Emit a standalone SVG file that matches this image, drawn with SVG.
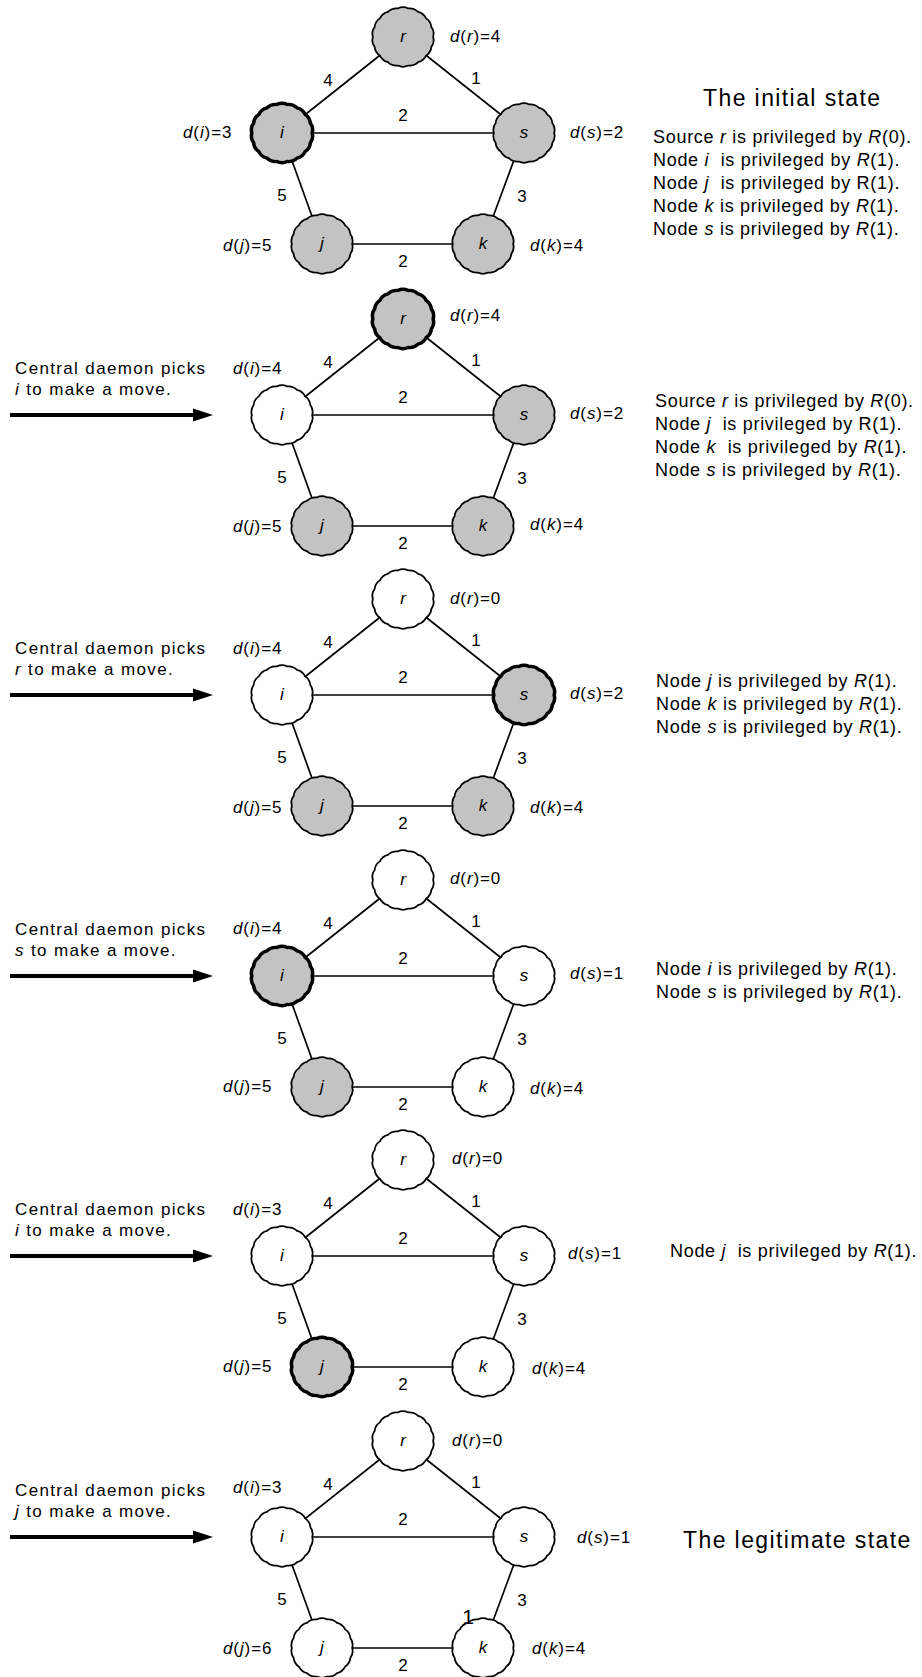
<svg xmlns="http://www.w3.org/2000/svg" xmlns:xlink="http://www.w3.org/1999/xlink" width="922" height="1677" viewBox="0 0 922 1677">
<style>
text { font-family: "Liberation Sans", Arial, sans-serif; fill: #000; }
.lab { font-size: 17px; letter-spacing: 0.9px; }
.nl { font-size: 17px; font-style: italic; text-anchor: middle; }
.el { font-size: 17px; text-anchor: middle; }
.desc { font-size: 18px; letter-spacing: 0.7px; white-space: pre; }
.title { font-size: 23px; letter-spacing: 1.4px; }
.cap { font-size: 17px; letter-spacing: 1.35px; }
.stray { font-size: 21px; text-anchor: middle; }
.it { font-style: italic; }
.edges line { stroke: #000; stroke-width: 1.7; }
.node { stroke: #000; stroke-width: 1.7; }
.w { fill: #fff; }
.g { fill: #c3c3c3; }
.hl { stroke-width: 3.4; }
.edges line.arrow { stroke: #000; stroke-width: 4; marker-end: url(#ah); }
</style>
<defs>
<path id="blob" d="M29,0 Q30.53,5.38 27.25,9.92 Q26.85,15.5 22.21,18.64 Q19.93,23.75 14.5,25.11 Q10.6,29.13 5.04,28.56 Q0,31 -5.04,28.56 Q-10.6,29.13 -14.5,25.11 Q-19.93,23.75 -22.21,18.64 Q-26.85,15.5 -27.25,9.92 Q-30.53,5.38 -29,0 Q-30.53,-5.38 -27.25,-9.92 Q-26.85,-15.5 -22.21,-18.64 Q-19.93,-23.75 -14.5,-25.11 Q-10.6,-29.13 -5.04,-28.56 Q0,-31 5.04,-28.56 Q10.6,-29.13 14.5,-25.11 Q19.93,-23.75 22.21,-18.64 Q26.85,-15.5 27.25,-9.92 Q30.53,-5.38 29,0 Z"/>
<marker id="ah" markerUnits="userSpaceOnUse" markerWidth="20" markerHeight="14" refX="7" refY="7" orient="auto"><path d="M0,0.5 L20,7 L0,13.5 Z" fill="#000"/></marker>
</defs>
<rect width="922" height="1677" fill="#fff"/>

<!-- Panel 1 -->
<g id="panel1" transform="translate(0,0)">
<g id="p1-edges" class="edges">
<line x1="403" y1="37" x2="282" y2="133"/><line x1="403" y1="37" x2="524" y2="133"/><line x1="282" y1="133" x2="524" y2="133"/><line x1="282" y1="133" x2="322" y2="244"/><line x1="524" y1="133" x2="483" y2="244"/><line x1="322" y1="244" x2="483" y2="244"/>
<text class="el" x="328" y="86">4</text><text class="el" x="476" y="84">1</text><text class="el" x="403" y="121">2</text><text class="el" x="282" y="201">5</text><text class="el" x="522" y="202">3</text><text class="el" x="403" y="267">2</text>
</g>
<g id="p1-r"><use xlink:href="#blob" class="node g" transform="translate(403,37) scale(1.04,1)"/><text class="nl" x="403" y="42">r</text></g>
<g id="p1-i"><use xlink:href="#blob" class="node g hl" transform="translate(282,133) scale(1.04,1)"/><text class="nl" x="282" y="138">i</text></g>
<g id="p1-s"><use xlink:href="#blob" class="node g" transform="translate(524,133) scale(1.04,1)"/><text class="nl" x="524" y="138">s</text></g>
<g id="p1-j"><use xlink:href="#blob" class="node g" transform="translate(322,244) scale(1.04,1)"/><text class="nl" x="322" y="249">j</text></g>
<g id="p1-k"><use xlink:href="#blob" class="node g" transform="translate(483,244) scale(1.04,1)"/><text class="nl" x="483" y="249">k</text></g>
<text class="lab" x="450" y="42"><tspan class="it">d</tspan>(<tspan class="it">r</tspan>)=4</text>
<text class="lab" x="183" y="138"><tspan class="it">d</tspan>(<tspan class="it">i</tspan>)=3</text>
<text class="lab" x="570" y="138"><tspan class="it">d</tspan>(<tspan class="it">s</tspan>)=2</text>
<text class="lab" x="223" y="251"><tspan class="it">d</tspan>(<tspan class="it">j</tspan>)=5</text>
<text class="lab" x="530" y="251"><tspan class="it">d</tspan>(<tspan class="it">k</tspan>)=4</text>
<text class="title" x="703" y="106">The initial state</text>
<text class="desc" x="653" y="143">Source <tspan class="it">r</tspan> is privileged by <tspan class="it">R</tspan>(0).</text>
<text class="desc" x="653" y="166">Node <tspan class="it">i</tspan>  is privileged by <tspan class="it">R</tspan>(1).</text>
<text class="desc" x="653" y="189">Node <tspan class="it">j</tspan>  is privileged by R(1).</text>
<text class="desc" x="653" y="212">Node <tspan class="it">k</tspan> is privileged by <tspan class="it">R</tspan>(1).</text>
<text class="desc" x="653" y="235">Node <tspan class="it">s</tspan> is privileged by <tspan class="it">R</tspan>(1).</text>
</g>

<!-- Panel 2 -->
<g id="panel2" transform="translate(0,282)">
<g id="p2-edges" class="edges">
<line x1="403" y1="37" x2="282" y2="133"/><line x1="403" y1="37" x2="524" y2="133"/><line x1="282" y1="133" x2="524" y2="133"/><line x1="282" y1="133" x2="322" y2="244"/><line x1="524" y1="133" x2="483" y2="244"/><line x1="322" y1="244" x2="483" y2="244"/>
<text class="el" x="328" y="86">4</text><text class="el" x="476" y="84">1</text><text class="el" x="403" y="121">2</text><text class="el" x="282" y="201">5</text><text class="el" x="522" y="202">3</text><text class="el" x="403" y="267">2</text>
<line class="arrow" x1="10" y1="133" x2="200" y2="133"/>
</g>
<g id="p2-r"><use xlink:href="#blob" class="node g hl" transform="translate(403,37) scale(1.04,1)"/><text class="nl" x="403" y="42">r</text></g>
<g id="p2-i"><use xlink:href="#blob" class="node w" transform="translate(282,133) scale(1.04,1)"/><text class="nl" x="282" y="138">i</text></g>
<g id="p2-s"><use xlink:href="#blob" class="node g" transform="translate(524,133) scale(1.04,1)"/><text class="nl" x="524" y="138">s</text></g>
<g id="p2-j"><use xlink:href="#blob" class="node g" transform="translate(322,244) scale(1.04,1)"/><text class="nl" x="322" y="249">j</text></g>
<g id="p2-k"><use xlink:href="#blob" class="node g" transform="translate(483,244) scale(1.04,1)"/><text class="nl" x="483" y="249">k</text></g>
<text class="cap" x="15" y="92">Central daemon picks</text>
<text class="cap" x="15" y="113"><tspan class="it">i</tspan> to make a move.</text>
<text class="lab" x="450" y="39"><tspan class="it">d</tspan>(<tspan class="it">r</tspan>)=4</text>
<text class="lab" x="233" y="92"><tspan class="it">d</tspan>(<tspan class="it">i</tspan>)=4</text>
<text class="lab" x="570" y="137"><tspan class="it">d</tspan>(<tspan class="it">s</tspan>)=2</text>
<text class="lab" x="233" y="250"><tspan class="it">d</tspan>(<tspan class="it">j</tspan>)=5</text>
<text class="lab" x="530" y="248"><tspan class="it">d</tspan>(<tspan class="it">k</tspan>)=4</text>
<text class="desc" x="655" y="125">Source <tspan class="it">r</tspan> is privileged by <tspan class="it">R</tspan>(0).</text>
<text class="desc" x="655" y="148">Node <tspan class="it">j</tspan>  is privileged by R(1).</text>
<text class="desc" x="655" y="171">Node <tspan class="it">k</tspan>  is privileged by <tspan class="it">R</tspan>(1).</text>
<text class="desc" x="655" y="194">Node <tspan class="it">s</tspan> is privileged by <tspan class="it">R</tspan>(1).</text>
</g>

<!-- Panel 3 -->
<g id="panel3" transform="translate(0,562)">
<g id="p3-edges" class="edges">
<line x1="403" y1="37" x2="282" y2="133"/><line x1="403" y1="37" x2="524" y2="133"/><line x1="282" y1="133" x2="524" y2="133"/><line x1="282" y1="133" x2="322" y2="244"/><line x1="524" y1="133" x2="483" y2="244"/><line x1="322" y1="244" x2="483" y2="244"/>
<text class="el" x="328" y="86">4</text><text class="el" x="476" y="84">1</text><text class="el" x="403" y="121">2</text><text class="el" x="282" y="201">5</text><text class="el" x="522" y="202">3</text><text class="el" x="403" y="267">2</text>
<line class="arrow" x1="10" y1="133" x2="200" y2="133"/>
</g>
<g id="p3-r"><use xlink:href="#blob" class="node w" transform="translate(403,37) scale(1.04,1)"/><text class="nl" x="403" y="42">r</text></g>
<g id="p3-i"><use xlink:href="#blob" class="node w" transform="translate(282,133) scale(1.04,1)"/><text class="nl" x="282" y="138">i</text></g>
<g id="p3-s"><use xlink:href="#blob" class="node g hl" transform="translate(524,133) scale(1.04,1)"/><text class="nl" x="524" y="138">s</text></g>
<g id="p3-j"><use xlink:href="#blob" class="node g" transform="translate(322,244) scale(1.04,1)"/><text class="nl" x="322" y="249">j</text></g>
<g id="p3-k"><use xlink:href="#blob" class="node g" transform="translate(483,244) scale(1.04,1)"/><text class="nl" x="483" y="249">k</text></g>
<text class="cap" x="15" y="92">Central daemon picks</text>
<text class="cap" x="15" y="113"><tspan class="it">r</tspan> to make a move.</text>
<text class="lab" x="450" y="42"><tspan class="it">d</tspan>(<tspan class="it">r</tspan>)=0</text>
<text class="lab" x="233" y="92"><tspan class="it">d</tspan>(<tspan class="it">i</tspan>)=4</text>
<text class="lab" x="570" y="137"><tspan class="it">d</tspan>(<tspan class="it">s</tspan>)=2</text>
<text class="lab" x="233" y="251"><tspan class="it">d</tspan>(<tspan class="it">j</tspan>)=5</text>
<text class="lab" x="530" y="251"><tspan class="it">d</tspan>(<tspan class="it">k</tspan>)=4</text>
<text class="desc" x="656" y="125">Node <tspan class="it">j</tspan> is privileged by <tspan class="it">R</tspan>(1).</text>
<text class="desc" x="656" y="148">Node <tspan class="it">k</tspan> is privileged by <tspan class="it">R</tspan>(1).</text>
<text class="desc" x="656" y="171">Node <tspan class="it">s</tspan> is privileged by <tspan class="it">R</tspan>(1).</text>
</g>

<!-- Panel 4 -->
<g id="panel4" transform="translate(0,843)">
<g id="p4-edges" class="edges">
<line x1="403" y1="37" x2="282" y2="133"/><line x1="403" y1="37" x2="524" y2="133"/><line x1="282" y1="133" x2="524" y2="133"/><line x1="282" y1="133" x2="322" y2="244"/><line x1="524" y1="133" x2="483" y2="244"/><line x1="322" y1="244" x2="483" y2="244"/>
<text class="el" x="328" y="86">4</text><text class="el" x="476" y="84">1</text><text class="el" x="403" y="121">2</text><text class="el" x="282" y="201">5</text><text class="el" x="522" y="202">3</text><text class="el" x="403" y="267">2</text>
<line class="arrow" x1="10" y1="133" x2="200" y2="133"/>
</g>
<g id="p4-r"><use xlink:href="#blob" class="node w" transform="translate(403,37) scale(1.04,1)"/><text class="nl" x="403" y="42">r</text></g>
<g id="p4-i"><use xlink:href="#blob" class="node g hl" transform="translate(282,133) scale(1.04,1)"/><text class="nl" x="282" y="138">i</text></g>
<g id="p4-s"><use xlink:href="#blob" class="node w" transform="translate(524,133) scale(1.04,1)"/><text class="nl" x="524" y="138">s</text></g>
<g id="p4-j"><use xlink:href="#blob" class="node g" transform="translate(322,244) scale(1.04,1)"/><text class="nl" x="322" y="249">j</text></g>
<g id="p4-k"><use xlink:href="#blob" class="node w" transform="translate(483,244) scale(1.04,1)"/><text class="nl" x="483" y="249">k</text></g>
<text class="cap" x="15" y="92">Central daemon picks</text>
<text class="cap" x="15" y="113"><tspan class="it">s</tspan> to make a move.</text>
<text class="lab" x="450" y="41"><tspan class="it">d</tspan>(<tspan class="it">r</tspan>)=0</text>
<text class="lab" x="233" y="91"><tspan class="it">d</tspan>(<tspan class="it">i</tspan>)=4</text>
<text class="lab" x="570" y="136"><tspan class="it">d</tspan>(<tspan class="it">s</tspan>)=1</text>
<text class="lab" x="223" y="249"><tspan class="it">d</tspan>(<tspan class="it">j</tspan>)=5</text>
<text class="lab" x="530" y="251"><tspan class="it">d</tspan>(<tspan class="it">k</tspan>)=4</text>
<text class="desc" x="656" y="132">Node <tspan class="it">i</tspan> is privileged by <tspan class="it">R</tspan>(1).</text>
<text class="desc" x="656" y="155">Node <tspan class="it">s</tspan> is privileged by <tspan class="it">R</tspan>(1).</text>
</g>

<!-- Panel 5 -->
<g id="panel5" transform="translate(0,1123)">
<g id="p5-edges" class="edges">
<line x1="403" y1="37" x2="282" y2="133"/><line x1="403" y1="37" x2="524" y2="133"/><line x1="282" y1="133" x2="524" y2="133"/><line x1="282" y1="133" x2="322" y2="244"/><line x1="524" y1="133" x2="483" y2="244"/><line x1="322" y1="244" x2="483" y2="244"/>
<text class="el" x="328" y="86">4</text><text class="el" x="476" y="84">1</text><text class="el" x="403" y="121">2</text><text class="el" x="282" y="201">5</text><text class="el" x="522" y="202">3</text><text class="el" x="403" y="267">2</text>
<line class="arrow" x1="10" y1="133" x2="200" y2="133"/>
</g>
<g id="p5-r"><use xlink:href="#blob" class="node w" transform="translate(403,37) scale(1.04,1)"/><text class="nl" x="403" y="42">r</text></g>
<g id="p5-i"><use xlink:href="#blob" class="node w" transform="translate(282,133) scale(1.04,1)"/><text class="nl" x="282" y="138">i</text></g>
<g id="p5-s"><use xlink:href="#blob" class="node w" transform="translate(524,133) scale(1.04,1)"/><text class="nl" x="524" y="138">s</text></g>
<g id="p5-j"><use xlink:href="#blob" class="node g hl" transform="translate(322,244) scale(1.04,1)"/><text class="nl" x="322" y="249">j</text></g>
<g id="p5-k"><use xlink:href="#blob" class="node w" transform="translate(483,244) scale(1.04,1)"/><text class="nl" x="483" y="249">k</text></g>
<text class="cap" x="15" y="92">Central daemon picks</text>
<text class="cap" x="15" y="113"><tspan class="it">i</tspan> to make a move.</text>
<text class="lab" x="452" y="41"><tspan class="it">d</tspan>(<tspan class="it">r</tspan>)=0</text>
<text class="lab" x="233" y="92"><tspan class="it">d</tspan>(<tspan class="it">i</tspan>)=3</text>
<text class="lab" x="568" y="136"><tspan class="it">d</tspan>(<tspan class="it">s</tspan>)=1</text>
<text class="lab" x="223" y="249"><tspan class="it">d</tspan>(<tspan class="it">j</tspan>)=5</text>
<text class="lab" x="532" y="251"><tspan class="it">d</tspan>(<tspan class="it">k</tspan>)=4</text>
<text class="desc" x="670" y="134">Node <tspan class="it">j</tspan>  is privileged by <tspan class="it">R</tspan>(1).</text>
</g>

<!-- Panel 6 -->
<g id="panel6" transform="translate(0,1404)">
<g id="p6-edges" class="edges">
<line x1="403" y1="37" x2="282" y2="133"/><line x1="403" y1="37" x2="524" y2="133"/><line x1="282" y1="133" x2="524" y2="133"/><line x1="282" y1="133" x2="322" y2="244"/><line x1="524" y1="133" x2="483" y2="244"/><line x1="322" y1="244" x2="483" y2="244"/>
<text class="el" x="328" y="86">4</text><text class="el" x="476" y="84">1</text><text class="el" x="403" y="121">2</text><text class="el" x="282" y="201">5</text><text class="el" x="522" y="202">3</text><text class="el" x="403" y="267">2</text>
<line class="arrow" x1="10" y1="133" x2="200" y2="133"/>
</g>
<g id="p6-r"><use xlink:href="#blob" class="node w" transform="translate(403,37) scale(1.04,1)"/><text class="nl" x="403" y="42">r</text></g>
<g id="p6-i"><use xlink:href="#blob" class="node w" transform="translate(282,133) scale(1.04,1)"/><text class="nl" x="282" y="138">i</text></g>
<g id="p6-s"><use xlink:href="#blob" class="node w" transform="translate(524,133) scale(1.04,1)"/><text class="nl" x="524" y="138">s</text></g>
<g id="p6-j"><use xlink:href="#blob" class="node w" transform="translate(322,244) scale(1.04,1)"/><text class="nl" x="322" y="249">j</text></g>
<g id="p6-k"><use xlink:href="#blob" class="node w" transform="translate(483,244) scale(1.04,1)"/><text class="nl" x="483" y="249">k</text></g>
<text class="cap" x="15" y="92">Central daemon picks</text>
<text class="cap" x="15" y="113"><tspan class="it">j</tspan> to make a move.</text>
<text class="lab" x="452" y="42"><tspan class="it">d</tspan>(<tspan class="it">r</tspan>)=0</text>
<text class="lab" x="233" y="89"><tspan class="it">d</tspan>(<tspan class="it">i</tspan>)=3</text>
<text class="lab" x="577" y="139"><tspan class="it">d</tspan>(<tspan class="it">s</tspan>)=1</text>
<text class="lab" x="223" y="250"><tspan class="it">d</tspan>(<tspan class="it">j</tspan>)=6</text>
<text class="lab" x="532" y="250"><tspan class="it">d</tspan>(<tspan class="it">k</tspan>)=4</text>
<text class="stray" x="468" y="220">1</text>
<text class="title" x="683" y="144">The legitimate state</text>
</g>
</svg>
